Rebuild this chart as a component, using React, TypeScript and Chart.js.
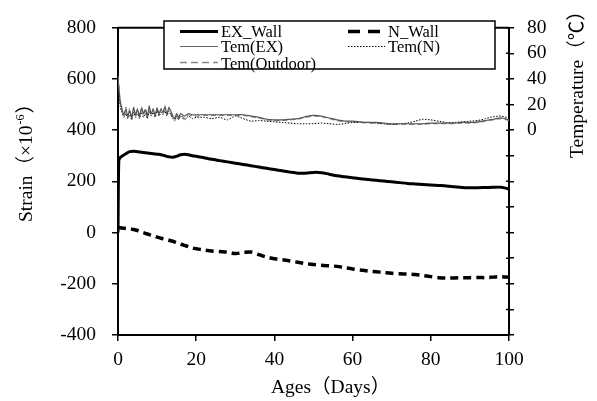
import React, { useEffect, useRef } from 'react';
import { Chart, registerables } from 'chart.js';
Chart.register(...registerables);

// ---------- data ----------
const exDays = [0, 0.2, 0.5, 1, 2, 3, 4, 5, 6, 7, 8, 9, 10, 11, 12, 13, 14, 15, 16, 17, 18, 19, 20,
  22, 24, 26, 28, 30, 32, 34, 36, 38, 40, 42, 44, 46, 48, 50, 52, 54, 56, 58, 60,
  62, 64, 66, 68, 70, 72, 74, 76, 78, 80, 82, 84, 86, 88, 90, 92, 94, 96, 98, 100];
const exWall = [0, 280, 292, 298, 308, 316, 318, 316, 314, 312, 310, 308, 306, 304, 300, 296, 294, 298, 304, 306, 304, 300, 298,
  292, 286, 281, 276, 271, 266, 261, 256, 251, 246, 241, 236, 232, 232, 235, 234, 228, 222, 218, 214,
  210, 207, 204, 201, 198, 195, 192, 190, 188, 186, 184, 182, 179, 176, 175, 175, 176, 177, 177, 170];

const nDays = [0, 1, 2, 3, 4, 5, 6, 7, 8, 9, 10, 11, 12, 13, 14, 15, 16, 17, 18, 19, 20,
  22, 24, 26, 28, 30, 32, 34, 36, 38, 40, 42, 44, 46, 48, 50, 52, 54, 56, 58, 60,
  62, 64, 66, 68, 70, 72, 74, 76, 78, 80, 82, 84, 86, 88, 90, 92, 94, 96, 98, 100];
const nWall = [20, 18, 16, 14, 12, 8, 2, -3, -8, -12, -18, -22, -26, -30, -34, -40, -45, -50, -55, -60, -63,
  -68, -72, -74, -76, -82, -78, -76, -86, -96, -102, -106, -111, -116, -121, -125, -128, -130, -132, -137, -142,
  -146, -150, -153, -156, -159, -161, -162, -164, -168, -172, -176, -178, -177, -176, -176, -175, -176, -174, -172, -175];

const tempDays = [0, 0.3, 0.6, 1, 1.5, 2, 2.5, 3, 3.5, 4, 4.5, 5, 5.5, 6, 6.5, 7, 7.5, 8, 8.5, 9, 9.5, 10, 10.5,
  11, 11.5, 12, 12.5, 13, 13.5, 14, 14.5, 15, 15.5, 16, 17, 18, 19, 20,
  22, 24, 26, 28, 30, 32, 34, 36, 38, 40, 42, 44, 46, 48, 50, 52, 54, 56, 58, 60,
  62, 64, 66, 68, 70, 72, 74, 76, 78, 80, 82, 84, 86, 88, 90, 92, 94, 96, 98, 100];
const temEX = [40, 30, 22,
  17, 12, 16, 11, 15, 10, 17, 12, 16, 11, 17, 13, 16, 11, 18, 13, 16, 12, 17, 13, 16, 14, 18, 13, 17, 15, 11, 9, 13, 10, 13,
  11, 13, 12, 12,
  12, 12, 12, 12, 12, 12, 11, 10, 8.5, 8, 8, 8.5, 9, 10.5, 11.5, 11, 9.5, 8, 7, 7,
  6.5, 6, 6, 5.5, 5, 5, 5, 5, 5, 5.5, 5.5, 5.5, 5.5, 6, 6, 6.5, 7.5, 8.5, 9.5, 8];
const temN = [38, 28, 18,
  14, 10, 13, 9, 12, 8, 14, 10, 13, 9, 14, 10, 13, 9, 15, 11, 14, 10, 15, 11, 14, 12, 15, 11, 15, 12, 9, 7, 11, 8, 11,
  8, 11, 9, 10,
  10, 9, 10, 8, 11, 9, 7, 7.5, 7, 6.5, 6, 5.5, 5, 5, 5, 5.5, 5, 4.5, 5, 6,
  6, 6, 5.5, 5, 4.5, 5, 5.5, 7, 8.5, 8, 7, 6, 6, 6.5, 7, 7.5, 9, 10.5, 11, 9.5];
const temOutdoor = [42, 32, 20,
  15, 11, 18, 10, 17, 9, 18, 11, 17, 10, 18, 12, 17, 10, 19, 12, 17, 11, 18, 12, 17, 13, 19, 12, 18, 14, 10, 8, 12, 9, 12,
  9, 12, 11, 11,
  11.5, 11.5, 11.5, 11.5, 11.5, 11.5, 10.5, 9.5, 8, 7.5, 7.5, 8, 8.5, 10, 11, 10.5, 9, 7.5, 6.5, 6.5,
  6, 5.5, 5.5, 5, 4.5, 4.5, 4.5, 4.5, 4.5, 5, 5, 5, 5, 5.5, 5.5, 6, 7, 8, 9, 7.5];

const seriesNames = ['EX_Wall', 'N_Wall', 'Tem(EX)', 'Tem(N)', 'Tem(Outdoor)'];
const xTitle = 'Ages（Days）';
const yTitleMain = 'Strain（×10';
const yTitleSup = '-6';
const yTitleEnd = '）';
const y2Title = 'Temperature（℃）';

const FONT = '"Liberation Serif", "Times New Roman", "Noto Sans CJK SC", serif';

const pts = (xs: number[], ys: number[]) => xs.map((x, i) => ({ x, y: ys[i] }));

const decorPlugin = {
  id: 'decor',
  afterDraw(chart: any) {
    const { ctx, chartArea } = chart;
    ctx.save();
    // top frame line
    ctx.strokeStyle = '#000';
    ctx.lineWidth = 2;
    ctx.beginPath();
    ctx.moveTo(chartArea.left, chartArea.top);
    ctx.lineTo(chartArea.right, chartArea.top);
    ctx.stroke();

    // inward tick marks on the right axis
    const s2 = chart.scales.y2;
    ctx.lineWidth = 1.5;
    ctx.beginPath();
    s2.ticks.forEach((_: any, i: number) => {
      const py = s2.getPixelForTick(i);
      ctx.moveTo(chartArea.right - 3, py);
      ctx.lineTo(chartArea.right, py);
    });
    ctx.stroke();

    // legend box
    const bx = 164, by = 21, bw = 331, bh = 48;
    ctx.fillStyle = '#fff';
    ctx.fillRect(bx, by, bw, bh);
    const sample = (x1: number, x2: number, y: number, color: string, w: number, dash: number[]) => {
      ctx.save();
      ctx.strokeStyle = color;
      ctx.lineWidth = w;
      ctx.setLineDash(dash);
      ctx.beginPath();
      ctx.moveTo(x1, y);
      ctx.lineTo(x2, y);
      ctx.stroke();
      ctx.restore();
    };
    sample(180, 218, 31.5, '#000', 3, []);
    sample(348, 385, 31.5, '#000', 3.5, [12, 8]);
    sample(180, 218, 46.5, '#666', 1.2, []);
    sample(348, 385, 46.5, '#000', 1, [1.5, 1.5]);
    sample(180, 218, 62.5, '#888', 1.3, [7, 4]);
    ctx.fillStyle = '#000';
    ctx.font = '16.5px ' + FONT;
    ctx.textBaseline = 'alphabetic';
    ctx.textAlign = 'left';
    ctx.fillText(seriesNames[0], 221, 36.5);
    ctx.fillText(seriesNames[1], 388, 36.5);
    ctx.fillText(seriesNames[2], 221, 52);
    ctx.fillText(seriesNames[3], 388, 52);
    ctx.fillText(seriesNames[4], 221, 69);
    ctx.strokeStyle = '#000';
    ctx.lineWidth = 1.5;
    ctx.strokeRect(bx, by, bw, bh);

    // axis titles
    ctx.font = '19.5px ' + FONT;
    ctx.fillStyle = '#000';
    ctx.textAlign = 'left';
    ctx.textBaseline = 'alphabetic';
    ctx.fillText(xTitle, 271, 393);

    // left title
    ctx.save();
    ctx.translate(32, 222);
    ctx.rotate(-Math.PI / 2);
    const w = ctx.measureText(yTitleMain).width;
    ctx.fillText(yTitleMain, 0, 0);
    ctx.font = '12px ' + FONT;
    ctx.fillText(yTitleSup, w + 1, -8);
    const ws = ctx.measureText(yTitleSup).width;
    ctx.font = '19.5px ' + FONT;
    ctx.fillText(yTitleEnd, w + ws + 2, 0);
    ctx.restore();

    // right title
    ctx.save();
    ctx.translate(583, 158);
    ctx.rotate(-Math.PI / 2);
    ctx.fillText(y2Title, 0, 0);
    ctx.restore();
    ctx.restore();
  },
};

export default function App() {
  const ref = useRef<HTMLCanvasElement>(null);
  useEffect(() => {
    const tickFont = { family: FONT, size: 19.5 };
    const axisGrid = { display: true, drawOnChartArea: false, drawTicks: true, tickLength: 6, color: '#000', lineWidth: 1.5 };
    const axisBorder = { display: true, color: '#000', width: 2 };
    const chart = new Chart(ref.current as HTMLCanvasElement, {
      type: 'line',
      data: {
        datasets: [
          { label: seriesNames[0], data: pts(exDays, exWall), yAxisID: 'y', borderColor: '#000', borderWidth: 3, pointRadius: 0, tension: 0.3 },
          { label: seriesNames[1], data: pts(nDays, nWall), yAxisID: 'y', borderColor: '#000', borderWidth: 3.5, borderDash: [8, 5], pointRadius: 0, tension: 0.3 },
          { label: seriesNames[2], data: pts(tempDays, temEX), yAxisID: 'y2', borderColor: '#555', borderWidth: 1.2, pointRadius: 0, tension: 0.2 },
          { label: seriesNames[3], data: pts(tempDays, temN), yAxisID: 'y2', borderColor: '#000', borderWidth: 1, borderDash: [1.5, 1.5], pointRadius: 0, tension: 0.2 },
          { label: seriesNames[4], data: pts(tempDays, temOutdoor), yAxisID: 'y2', borderColor: '#888', borderWidth: 1.2, borderDash: [5, 3], pointRadius: 0, tension: 0.2 },
        ],
      },
      options: {
        animation: false,
        responsive: false,
        devicePixelRatio: 1,
        layout: { padding: { top: 14, left: 0, right: 0, bottom: 0 } },
        plugins: { legend: { display: false }, tooltip: { enabled: false } },
        scales: {
          x: {
            type: 'linear', min: 0, max: 100,
            ticks: { stepSize: 20, font: tickFont, color: '#000', padding: 7, maxRotation: 0, autoSkip: false },
            grid: axisGrid, border: axisBorder,
            afterFit: (s: any) => { s.height = 66; },
          },
          y: {
            type: 'linear', position: 'left', min: -400, max: 800,
            ticks: { stepSize: 200, font: tickFont, color: '#000', padding: 16, autoSkip: false },
            grid: axisGrid, border: axisBorder,
            afterFit: (s: any) => { s.width = 118; },
          },
          y2: {
            type: 'linear', position: 'right', min: -160, max: 80,
            ticks: { stepSize: 20, font: tickFont, color: '#000', padding: 13, autoSkip: false, callback: (v: any) => (Number(v) >= 0 ? String(v) : '') },
            grid: { ...axisGrid, tickLength: 5 }, border: axisBorder,
            afterFit: (s: any) => { s.width = 88; },
          },
        },
      },
      plugins: [decorPlugin],
    });
    return () => chart.destroy();
  }, []);
  return (
    <div style={{ position: 'fixed', left: 0, top: 0, width: 597, height: 401, background: '#fff' }}>
      <canvas ref={ref} width={597} height={401} style={{ width: 597, height: 401, display: 'block' }} />
    </div>
  );
}
